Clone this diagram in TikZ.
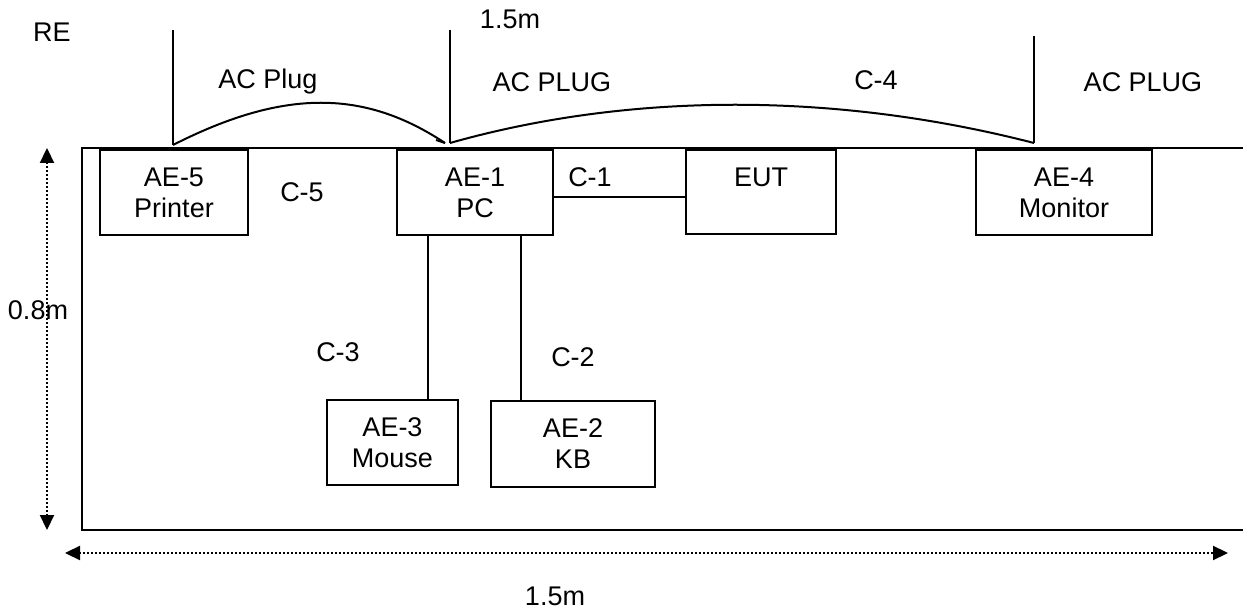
\documentclass[tikz,border=0pt]{standalone}
\usepackage{fontspec}
\setmainfont{Liberation Sans}
\usetikzlibrary{arrows.meta,calc}
\begin{document}
\begin{tikzpicture}[x=1pt,y=-1pt,
  every node/.style={font=\fontsize{27}{31}\selectfont},
  box/.style={draw,line width=2pt,inner sep=0pt,align=center},
  wire/.style={line width=2pt},
  dimline/.style={line width=2.2pt,dash pattern=on 1.8pt off 2.2pt,
     {Triangle[length=15pt,width=14pt]}-{Triangle[length=15pt,width=14pt]}}]
\useasboundingbox (0,0) rectangle (1243,609);
% table outline
\draw[line width=2.2pt] (1243,148) -- (82,148) -- (82,530) -- (1243,530);
% equipment boxes
\node[box,minimum width=148pt,minimum height=85pt] (printer) at (174,192.5) {AE-5\\Printer};
\node[box,minimum width=156pt,minimum height=85pt] (pc) at (475,192.5) {AE-1\\PC};
\node[box,minimum width=150pt,minimum height=84pt] (eut) at (761,192) {};
\node (euttext) at (761,177) {EUT};
\node[box,minimum width=176pt,minimum height=85pt] (monitor) at (1064,192.5) {AE-4\\Monitor};
\node[box,minimum width=131pt,minimum height=85pt] (mouse) at (392.5,442.5) {AE-3\\Mouse};
\node[box,minimum width=164pt,minimum height=86pt] (kb) at (573,444) {AE-2\\KB};
% cables
\draw[wire] (pc.east |- 0,197) -- (eut.west |- 0,197);
\coordinate (m1) at ($(pc.south west)!0.2!(pc.south east)$);
\coordinate (k1) at ($(pc.south west)!0.79!(pc.south east)$);
\draw[wire] (m1) -- (m1 |- mouse.north);
\draw[wire] (k1) -- (k1 |- kb.north);
% AC plugs
\coordinate (p1t) at (173,30);
\coordinate (p1b) at (173,145);
\coordinate (p2t) at (450,30);
\coordinate (p2b) at (450,143);
\coordinate (p3t) at (1034,36);
\coordinate (p3b) at (1034,143);
\coordinate (c1e) at (445,143);
\draw[wire] (p1t) -- (p1b);
\draw[wire] (p2t) -- (p2b);
\draw[wire] (p3t) -- (p3b);
\draw[wire] (p1b) .. controls (285,88) and (365,90) .. (c1e);
\draw[wire] (c1e) -- ++(-9,-3);
\draw[wire] (p2b) .. controls (630,92) and (836,92) .. (p3b);
% dimensions
\coordinate (v1) at (47,148);
\coordinate (v2) at (47,530);
\coordinate (h1) at (65,553);
\coordinate (h2) at (1228,553);
\draw[dimline] (v1) -- (v2);
\draw[dimline] (h1) -- (h2);
% labels
\node (re) at (52,32) {RE};
\node (top15) at (510,19) {1.5m};
\node (acplug1) at (268,82) {AC Plug};
\node (acplug2) at (552,82) {AC PLUG};
\node (c4) at (876,80) {C-4};
\node (acplug3) at (1143,82) {AC PLUG};
\node (c5) at (302,192) {C-5};
\node (c1) at (590,177) {C-1};
\node (c3) at (338,352) {C-3};
\node (c2) at (573,357) {C-2};
\node (d08) at (38,310) {0.8m};
\node (d15) at (555,596) {1.5m};
\end{tikzpicture}
\end{document}
